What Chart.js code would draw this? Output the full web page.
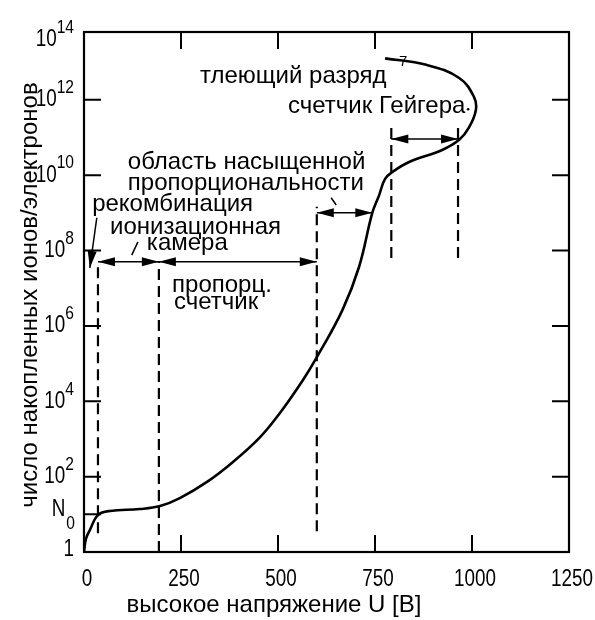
<!DOCTYPE html>
<html>
<head>
<meta charset="utf-8">
<script src="https://cdn.jsdelivr.net/npm/chart.js@4.4.1/dist/chart.umd.min.js"></script>
<style>
  body { margin: 0; background: #fff; }
  #wrap { width: 595px; height: 620px; position: relative; }
</style>
</head>
<body>
<div id="wrap"><canvas id="chart"></canvas></div>
<script>
const voltage  = [0, 5, 15, 36, 67, 144, 196, 247, 317, 384, 454, 505, 564, 599, 666, 709, 743, 760, 776, 797, 838, 923, 967, 992, 1010, 1005, 967, 882, 776];
const logCount = [0, 0.35, 0.58, 0.98, 1.09, 1.14, 1.22, 1.43, 1.86, 2.39, 3.05, 3.69, 4.56, 5.15, 6.42, 7.57, 9.0, 9.45, 9.9, 10.1, 10.35, 10.67, 10.94, 11.26, 11.73, 12.08, 12.58, 12.93, 13.1];

// region boundaries (dashed)
const boundaryV    = [36, 193, 600, 792, 964];
const boundaryFrom = [0.5, 0, 0.55, 7.8, 7.8];
const boundaryTo   = [7.7, 7.7, 9.16, 11.33, 11.33];

// double arrows between boundaries
const spanFrom  = [36, 193, 600, 792];
const spanTo    = [193, 600, 743, 964];
const spanLevel = [7.7, 7.7, 9.0, 10.96];

// ticks
const xTicks = [0, 250, 500, 750, 1000, 1250];
const yTicks = [0, 1, 2, 4, 6, 8, 10, 12, 14];
const yTickBase = ['1', 'N', '10', '10', '10', '10', '10', '10', '10'];
const yTickSup  = ['', '', '2', '4', '6', '8', '10', '12', '14'];
const yTickSub  = ['', '0', '', '', '', '', '', '', ''];

// region names
const regionNames = ['тлеющий разряд', 'счетчик Гейгера', 'область насыщенной', 'пропорциональности',
  'рекомбинация', 'ионизационная', 'камера', 'пропорц.', 'счетчик'];
const regionV   = [299, 526, 113, 113, 21, 67, 162, 227, 232];
const regionLog = [12.45, 11.65, 10.16, 9.61, 9.05, 8.44, 8.01, 6.90, 6.45];

const xTitle = 'высокое напряжение U [В]';
const yTitle = 'число накопленных ионов/электронов';

const SANS = "'Liberation Sans', Arial, sans-serif";

function narrowText(ctx, text, x, y, size, align) {
  ctx.save();
  ctx.font = size + 'px ' + SANS;
  const w = ctx.measureText(text).width * 0.82;
  let left = x;
  if (align === 'center') left = x - w / 2;
  if (align === 'right') left = x - w;
  ctx.translate(left, y);
  ctx.scale(0.82, 1);
  ctx.textAlign = 'left';
  ctx.textBaseline = 'middle';
  ctx.fillText(text, 0, 0);
  ctx.restore();
  return w;
}

function arrowHead(ctx, tx, ty, fx, fy) {
  const ang = Math.atan2(ty - fy, tx - fx);
  const len = 17, half = 4.5;
  ctx.save();
  ctx.translate(tx, ty);
  ctx.rotate(ang);
  ctx.beginPath();
  ctx.moveTo(0, 0);
  ctx.lineTo(-len, -half);
  ctx.lineTo(-len, half);
  ctx.closePath();
  ctx.fill();
  ctx.restore();
}

const decorations = {
  id: 'decorations',
  afterDatasetsDraw(chart) {
    const { ctx, chartArea: a, scales: { x, y } } = chart;
    ctx.save();
    ctx.strokeStyle = '#000';
    ctx.fillStyle = '#000';
    ctx.lineCap = 'butt';

    // frame
    ctx.lineWidth = 2.2;
    ctx.strokeRect(a.left, a.top, a.right - a.left, a.bottom - a.top);

    // inward tick marks
    const tl = 17;
    ctx.lineWidth = 2;
    ctx.beginPath();
    xTicks.slice(1, -1).forEach(v => {
      const px = x.getPixelForValue(v);
      ctx.moveTo(px, a.bottom); ctx.lineTo(px, a.bottom - tl);
      ctx.moveTo(px, a.top); ctx.lineTo(px, a.top + tl);
    });
    yTicks.forEach(v => {
      if (v <= 0 || v > y.max) return;
      const py = y.getPixelForValue(v);
      ctx.moveTo(a.left, py); ctx.lineTo(a.left + tl, py);
      if (v >= 2) { ctx.moveTo(a.right, py); ctx.lineTo(a.right - tl, py); }
    });
    ctx.stroke();

    // x tick labels
    xTicks.forEach(v => {
      narrowText(ctx, String(v), x.getPixelForValue(v) + 3, 580, 23, 'center');
    });

    // y tick labels, right aligned with super/subscripts
    const right = 74;
    yTicks.forEach((v, i) => {
      let py = Math.max(y.getPixelForValue(v), a.top + 8);
      ctx.font = '23px ' + SANS;
      const wb = ctx.measureText(yTickBase[i]).width * 0.82;
      ctx.font = '19px ' + SANS;
      const ws = ctx.measureText(yTickSup[i] || yTickSub[i]).width * 0.82;
      const left = right - wb - ws;
      if (yTickSub[i]) {
        narrowText(ctx, yTickBase[i], left, py - 5, 23, 'left');
        narrowText(ctx, yTickSub[i], left + wb + 1, py + 9, 19, 'left');
      } else if (yTickSup[i]) {
        narrowText(ctx, yTickBase[i], left, py, 23, 'left');
        narrowText(ctx, yTickSup[i], left + wb, py - 12, 19, 'left');
      } else {
        narrowText(ctx, yTickBase[i], right - wb, py - 2, 23, 'left');
      }
    });

    // double arrows
    ctx.lineWidth = 1.5;
    spanFrom.forEach((v, i) => {
      const x1 = x.getPixelForValue(v), x2 = x.getPixelForValue(spanTo[i]);
      const py = y.getPixelForValue(spanLevel[i]);
      ctx.beginPath();
      ctx.moveTo(x1, py); ctx.lineTo(x2, py);
      ctx.stroke();
      arrowHead(ctx, x1, py, x2, py);
      arrowHead(ctx, x2, py, x1, py);
    });

    // recombination pointer
    const rx1 = x.getPixelForValue(33), ry1 = y.getPixelForValue(8.87);
    const rx2 = x.getPixelForValue(15), ry2 = y.getPixelForValue(7.54);
    ctx.beginPath(); ctx.moveTo(rx1, ry1); ctx.lineTo(rx2, ry2); ctx.stroke();
    arrowHead(ctx, rx2, ry2, rx1, ry1);

    // small leader strokes
    ctx.lineWidth = 1.5;
    ctx.beginPath();
    ctx.moveTo(x.getPixelForValue(139), y.getPixelForValue(8.23));
    ctx.lineTo(x.getPixelForValue(123), y.getPixelForValue(7.88));
    ctx.moveTo(x.getPixelForValue(637), y.getPixelForValue(9.4));
    ctx.lineTo(x.getPixelForValue(650), y.getPixelForValue(9.21));
    ctx.stroke();

    // region names
    ctx.font = '24px ' + SANS;
    ctx.textAlign = 'left';
    ctx.textBaseline = 'alphabetic';
    regionNames.forEach((t, i) => {
      ctx.fillText(t, x.getPixelForValue(regionV[i]), y.getPixelForValue(regionLog[i]));
    });
    ctx.font = '15px ' + SANS;
    ctx.fillText('7', x.getPixelForValue(812), y.getPixelForValue(12.9));
    ctx.beginPath();
    ctx.arc(x.getPixelForValue(990), y.getPixelForValue(11.75), 1.3, 0, Math.PI * 2);
    ctx.fill();

    // axis titles
    ctx.font = '24px ' + SANS;
    ctx.textAlign = 'center';
    ctx.fillText(xTitle, 274, 612);
    ctx.save();
    ctx.translate(37, 295);
    ctx.rotate(-Math.PI / 2);
    ctx.fillText(yTitle, 0, 0);
    ctx.restore();

    ctx.restore();
  }
};

const boundarySets = boundaryV.map((v, i) => ({
  data: [{ x: v, y: boundaryFrom[i] }, { x: v, y: boundaryTo[i] }],
  borderColor: '#000',
  borderWidth: 2.2,
  borderDash: [11, 6],
  pointRadius: 0,
  showLine: true,
  fill: false
}));

new Chart(document.getElementById('chart'), {
  type: 'scatter',
  data: {
    datasets: [
      {
        data: voltage.map((v, i) => ({ x: v, y: logCount[i] })),
        borderColor: '#000',
        borderWidth: 2.6,
        pointRadius: 0,
        showLine: true,
        tension: 0.4,
        fill: false
      },
      ...boundarySets
    ]
  },
  options: {
    responsive: true,
    maintainAspectRatio: false,
    animation: false,
    layout: { padding: { left: 84, top: 32, right: 26, bottom: 68 } },
    plugins: { legend: { display: false }, tooltip: { enabled: false } },
    scales: {
      x: { type: 'linear', min: 0, max: 1250, display: false },
      y: { type: 'linear', min: 0, max: 13.8, display: false }
    }
  },
  plugins: [decorations]
});
</script>
</body>
</html>
